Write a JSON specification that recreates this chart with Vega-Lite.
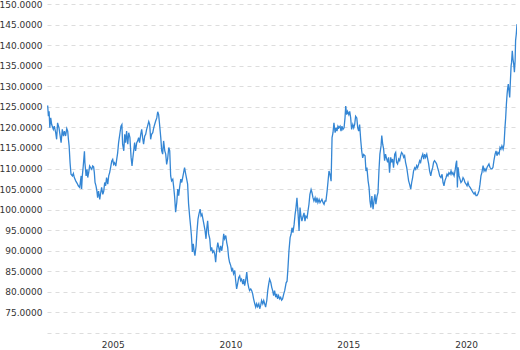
{
"$schema": "https://vega.github.io/schema/vega-lite/v6.json",
"width": 470,
"height": 329,
"autosize": {"type": "none"},
"padding": {"left": 47, "top": 4, "right": 3, "bottom": 17},
"background": "white",
"config": {"view": {"stroke": null}, "font": "DejaVu Sans"},
"data": {"values": [
{"year":2002.24,"rate":125.3},{"year":2002.27,"rate":122.7},{"year":2002.30,"rate":123.9},{"year":2002.33,"rate":119.9},{"year":2002.37,"rate":122.3},{"year":2002.41,"rate":120.7},{"year":2002.48,"rate":119.5},{"year":2002.52,"rate":120.3},{"year":2002.58,"rate":118.7},{"year":2002.62,"rate":117.1},{"year":2002.66,"rate":121.1},{"year":2002.72,"rate":119.9},{"year":2002.76,"rate":118.3},{"year":2002.81,"rate":116.3},{"year":2002.86,"rate":119.5},{"year":2002.91,"rate":117.9},{"year":2002.95,"rate":119.1},{"year":2003.00,"rate":117.9},{"year":2003.05,"rate":119.7},{"year":2003.09,"rate":119.1},{"year":2003.12,"rate":117.1},{"year":2003.15,"rate":115.5},{"year":2003.19,"rate":111.4},{"year":2003.23,"rate":108.6},{"year":2003.29,"rate":108.2},{"year":2003.33,"rate":108.8},{"year":2003.37,"rate":107.8},{"year":2003.43,"rate":107.0},{"year":2003.49,"rate":106.4},{"year":2003.54,"rate":105.8},{"year":2003.60,"rate":105.4},{"year":2003.66,"rate":108.2},{"year":2003.68,"rate":105.0},{"year":2003.71,"rate":108.2},{"year":2003.75,"rate":110.6},{"year":2003.80,"rate":114.2},{"year":2003.82,"rate":111.4},{"year":2003.87,"rate":108.2},{"year":2003.91,"rate":109.8},{"year":2003.94,"rate":107.8},{"year":2003.98,"rate":109.0},{"year":2004.02,"rate":110.6},{"year":2004.06,"rate":110.2},{"year":2004.11,"rate":109.8},{"year":2004.15,"rate":110.6},{"year":2004.19,"rate":110.4},{"year":2004.22,"rate":109.0},{"year":2004.25,"rate":106.6},{"year":2004.29,"rate":105.8},{"year":2004.33,"rate":104.5},{"year":2004.36,"rate":102.9},{"year":2004.40,"rate":104.5},{"year":2004.45,"rate":102.5},{"year":2004.49,"rate":104.1},{"year":2004.53,"rate":105.4},{"year":2004.58,"rate":103.7},{"year":2004.62,"rate":104.5},{"year":2004.66,"rate":106.6},{"year":2004.70,"rate":105.8},{"year":2004.74,"rate":107.8},{"year":2004.79,"rate":106.2},{"year":2004.83,"rate":108.2},{"year":2004.87,"rate":109.0},{"year":2004.91,"rate":110.2},{"year":2004.96,"rate":111.8},{"year":2005.00,"rate":112.2},{"year":2005.04,"rate":111.0},{"year":2005.08,"rate":111.4},{"year":2005.13,"rate":110.6},{"year":2005.17,"rate":112.2},{"year":2005.21,"rate":113.8},{"year":2005.25,"rate":116.3},
{"year":2005.31,"rate":118.7},{"year":2005.35,"rate":120.3},{"year":2005.39,"rate":120.7},{"year":2005.42,"rate":115.9},{"year":2005.47,"rate":114.3},{"year":2005.51,"rate":118.3},{"year":2005.55,"rate":116.3},{"year":2005.59,"rate":119.1},{"year":2005.64,"rate":115.9},{"year":2005.68,"rate":118.7},{"year":2005.73,"rate":117.5},{"year":2005.78,"rate":112.7},{"year":2005.82,"rate":110.6},{"year":2005.85,"rate":112.3},{"year":2005.89,"rate":114.3},{"year":2005.93,"rate":116.3},{"year":2005.97,"rate":114.3},{"year":2006.02,"rate":116.3},{"year":2006.06,"rate":116.7},{"year":2006.10,"rate":117.5},{"year":2006.14,"rate":116.3},{"year":2006.19,"rate":118.3},{"year":2006.23,"rate":119.5},{"year":2006.27,"rate":117.5},{"year":2006.31,"rate":115.9},{"year":2006.36,"rate":117.9},{"year":2006.40,"rate":118.3},{"year":2006.44,"rate":119.5},{"year":2006.48,"rate":120.3},{"year":2006.53,"rate":121.4},{"year":2006.57,"rate":120.7},{"year":2006.61,"rate":117.1},{"year":2006.65,"rate":118.3},{"year":2006.70,"rate":118.7},{"year":2006.74,"rate":119.9},{"year":2006.78,"rate":120.7},{"year":2006.82,"rate":121.5},{"year":2006.87,"rate":122.3},{"year":2006.91,"rate":123.8},{"year":2006.95,"rate":123.1},{"year":2006.99,"rate":120.7},{"year":2007.04,"rate":117.5},{"year":2007.08,"rate":114.3},{"year":2007.12,"rate":113.5},{"year":2007.16,"rate":116.7},{"year":2007.21,"rate":114.3},{"year":2007.25,"rate":113.5},{"year":2007.29,"rate":111.0},{"year":2007.33,"rate":112.3},{"year":2007.38,"rate":115.1},{"year":2007.42,"rate":114.3},{"year":2007.46,"rate":108.2},{"year":2007.50,"rate":107.0},{"year":2007.55,"rate":107.4},{"year":2007.59,"rate":105.4},{"year":2007.63,"rate":103.0},{"year":2007.67,"rate":99.4},{"year":2007.72,"rate":101.8},{"year":2007.76,"rate":105.0},{"year":2007.80,"rate":103.4},{"year":2007.84,"rate":105.4},{"year":2007.89,"rate":107.4},{"year":2007.93,"rate":106.6},{"year":2007.97,"rate":107.8},{"year":2008.01,"rate":109.0},{"year":2008.05,"rate":110.2},{"year":2008.10,"rate":108.6},{"year":2008.14,"rate":107.4},{"year":2008.18,"rate":106.2},{"year":2008.22,"rate":101.4},{"year":2008.27,"rate":98.1},{"year":2008.31,"rate":95.7},{"year":2008.34,"rate":93.7},{"year":2008.38,"rate":89.7},{"year":2008.42,"rate":91.7},{"year":2008.46,"rate":89.7},
{"year":2008.49,"rate":88.8},{"year":2008.54,"rate":91.2},{"year":2008.58,"rate":94.9},{"year":2008.62,"rate":97.7},{"year":2008.66,"rate":98.9},{"year":2008.71,"rate":100.1},{"year":2008.75,"rate":98.5},{"year":2008.79,"rate":98.9},{"year":2008.83,"rate":97.7},{"year":2008.87,"rate":96.5},{"year":2008.92,"rate":94.9},{"year":2008.96,"rate":92.9},{"year":2008.99,"rate":95.3},{"year":2009.03,"rate":97.3},{"year":2009.07,"rate":94.1},{"year":2009.12,"rate":92.9},{"year":2009.16,"rate":90.0},{"year":2009.20,"rate":90.8},{"year":2009.24,"rate":89.6},{"year":2009.29,"rate":90.0},{"year":2009.33,"rate":89.2},{"year":2009.37,"rate":87.2},{"year":2009.41,"rate":90.0},{"year":2009.46,"rate":92.0},{"year":2009.50,"rate":90.8},{"year":2009.54,"rate":89.6},{"year":2009.58,"rate":91.2},{"year":2009.63,"rate":90.0},{"year":2009.67,"rate":91.6},{"year":2009.71,"rate":94.1},{"year":2009.75,"rate":92.9},{"year":2009.80,"rate":93.7},{"year":2009.84,"rate":92.0},{"year":2009.88,"rate":90.8},{"year":2009.92,"rate":88.4},{"year":2009.96,"rate":87.2},{"year":2010.01,"rate":86.4},{"year":2010.05,"rate":85.2},{"year":2010.09,"rate":85.6},{"year":2010.13,"rate":84.4},{"year":2010.18,"rate":85.2},{"year":2010.22,"rate":82.7},{"year":2010.26,"rate":80.7},{"year":2010.30,"rate":81.9},{"year":2010.35,"rate":83.5},{"year":2010.39,"rate":83.9},{"year":2010.43,"rate":82.7},{"year":2010.47,"rate":83.1},{"year":2010.52,"rate":81.9},{"year":2010.56,"rate":83.1},{"year":2010.60,"rate":81.5},{"year":2010.64,"rate":82.7},{"year":2010.69,"rate":84.8},{"year":2010.73,"rate":82.3},{"year":2010.77,"rate":81.1},{"year":2010.81,"rate":80.3},{"year":2010.86,"rate":80.7},{"year":2010.90,"rate":80.3},{"year":2010.94,"rate":79.5},{"year":2010.98,"rate":78.3},{"year":2011.03,"rate":77.1},{"year":2011.07,"rate":76.3},{"year":2011.11,"rate":77.1},{"year":2011.15,"rate":76.4},{"year":2011.20,"rate":77.1},{"year":2011.24,"rate":75.9},{"year":2011.28,"rate":76.7},{"year":2011.32,"rate":77.9},{"year":2011.37,"rate":77.1},{"year":2011.41,"rate":77.9},{"year":2011.45,"rate":77.1},{"year":2011.49,"rate":76.3},{"year":2011.54,"rate":77.9},{"year":2011.58,"rate":80.3},{"year":2011.62,"rate":81.9},{"year":2011.66,"rate":83.1},{"year":2011.71,"rate":82.3},{"year":2011.75,"rate":81.1},{"year":2011.79,"rate":80.3},{"year":2011.83,"rate":79.1},{"year":2011.87,"rate":80.3},{"year":2011.92,"rate":78.7},{"year":2011.96,"rate":79.5},{"year":2012.00,"rate":78.3},{"year":2012.04,"rate":79.1},{"year":2012.09,"rate":78.3},{"year":2012.13,"rate":78.7},{"year":2012.17,"rate":78.0},{"year":2012.21,"rate":78.3},{"year":2012.26,"rate":79.5},{"year":2012.30,"rate":80.3},
{"year":2012.36,"rate":82.2},{"year":2012.40,"rate":82.6},{"year":2012.44,"rate":85.9},{"year":2012.48,"rate":89.9},{"year":2012.53,"rate":93.2},{"year":2012.57,"rate":94.0},{"year":2012.61,"rate":95.6},{"year":2012.65,"rate":94.4},{"year":2012.70,"rate":96.4},{"year":2012.74,"rate":98.8},{"year":2012.78,"rate":100.5},{"year":2012.82,"rate":102.9},{"year":2012.87,"rate":98.8},{"year":2012.91,"rate":94.8},{"year":2012.95,"rate":100.5},{"year":2012.99,"rate":98.4},{"year":2013.03,"rate":97.2},{"year":2013.08,"rate":98.4},{"year":2013.12,"rate":99.2},{"year":2013.16,"rate":97.2},{"year":2013.20,"rate":98.4},{"year":2013.25,"rate":98.0},{"year":2013.29,"rate":99.7},{"year":2013.33,"rate":101.3},{"year":2013.37,"rate":103.7},{"year":2013.42,"rate":104.9},{"year":2013.46,"rate":104.1},{"year":2013.50,"rate":102.9},{"year":2013.54,"rate":102.1},{"year":2013.59,"rate":102.9},{"year":2013.63,"rate":101.7},{"year":2013.67,"rate":102.9},{"year":2013.71,"rate":101.7},{"year":2013.76,"rate":102.5},{"year":2013.80,"rate":101.7},{"year":2013.84,"rate":102.1},{"year":2013.88,"rate":102.5},{"year":2013.93,"rate":101.7},{"year":2013.97,"rate":101.3},{"year":2014.01,"rate":102.1},{"year":2014.05,"rate":102.1},{"year":2014.10,"rate":104.5},{"year":2014.14,"rate":106.9},{"year":2014.18,"rate":109.4},{"year":2014.22,"rate":108.6},{"year":2014.27,"rate":106.9},{"year":2014.31,"rate":117.5},{"year":2014.35,"rate":118.7},{"year":2014.39,"rate":121.1},{"year":2014.44,"rate":118.7},{"year":2014.48,"rate":119.9},{"year":2014.52,"rate":119.1},{"year":2014.56,"rate":120.3},{"year":2014.60,"rate":119.9},{"year":2014.65,"rate":120.3},{"year":2014.69,"rate":119.1},{"year":2014.73,"rate":120.3},{"year":2014.77,"rate":119.5},{"year":2014.82,"rate":119.9},{"year":2014.86,"rate":122.3},{"year":2014.89,"rate":125.2},{"year":2014.93,"rate":123.1},{"year":2014.97,"rate":123.9},{"year":2015.02,"rate":123.1},{"year":2015.06,"rate":123.9},{"year":2015.10,"rate":122.3},{"year":2015.14,"rate":119.5},{"year":2015.19,"rate":120.7},{"year":2015.23,"rate":119.9},{"year":2015.27,"rate":120.7},{"year":2015.31,"rate":122.7},{"year":2015.36,"rate":122.3},{"year":2015.40,"rate":119.9},{"year":2015.44,"rate":119.1},{"year":2015.48,"rate":120.7},{"year":2015.53,"rate":116.7},{"year":2015.57,"rate":114.2},{"year":2015.61,"rate":112.6},{"year":2015.65,"rate":113.4},
{"year":2015.71,"rate":113.1},{"year":2015.75,"rate":109.4},{"year":2015.79,"rate":110.2},{"year":2015.84,"rate":107.0},{"year":2015.88,"rate":105.4},{"year":2015.92,"rate":102.1},{"year":2015.96,"rate":100.5},{"year":2016.00,"rate":103.3},{"year":2016.05,"rate":100.1},{"year":2016.09,"rate":102.1},{"year":2016.13,"rate":103.7},{"year":2016.17,"rate":101.3},{"year":2016.22,"rate":103.3},{"year":2016.26,"rate":104.1},{"year":2016.30,"rate":109.4},{"year":2016.34,"rate":113.5},{"year":2016.39,"rate":115.5},{"year":2016.42,"rate":118.0},{"year":2016.46,"rate":115.9},{"year":2016.50,"rate":114.7},{"year":2016.54,"rate":111.9},{"year":2016.58,"rate":113.5},{"year":2016.63,"rate":112.3},{"year":2016.67,"rate":111.5},{"year":2016.71,"rate":112.7},{"year":2016.75,"rate":109.0},{"year":2016.80,"rate":112.7},{"year":2016.84,"rate":111.5},{"year":2016.88,"rate":112.3},{"year":2016.92,"rate":110.2},{"year":2016.97,"rate":113.5},{"year":2017.01,"rate":113.9},{"year":2017.05,"rate":111.5},{"year":2017.09,"rate":111.1},{"year":2017.14,"rate":112.3},{"year":2017.18,"rate":111.9},{"year":2017.22,"rate":113.1},{"year":2017.26,"rate":113.9},{"year":2017.31,"rate":113.5},{"year":2017.35,"rate":112.7},{"year":2017.39,"rate":113.1},{"year":2017.43,"rate":111.5},{"year":2017.48,"rate":110.2},{"year":2017.52,"rate":108.6},{"year":2017.56,"rate":107.0},{"year":2017.60,"rate":106.2},{"year":2017.65,"rate":105.0},{"year":2017.69,"rate":106.6},{"year":2017.73,"rate":107.8},{"year":2017.77,"rate":109.4},{"year":2017.82,"rate":110.2},{"year":2017.86,"rate":109.8},{"year":2017.90,"rate":110.7},{"year":2017.94,"rate":110.2},{"year":2017.99,"rate":111.1},{"year":2018.03,"rate":111.9},{"year":2018.07,"rate":111.5},{"year":2018.11,"rate":112.7},{"year":2018.16,"rate":113.5},{"year":2018.20,"rate":112.3},{"year":2018.24,"rate":113.5},{"year":2018.28,"rate":112.7},{"year":2018.33,"rate":113.5},{"year":2018.37,"rate":112.3},{"year":2018.41,"rate":111.1},{"year":2018.45,"rate":109.4},{"year":2018.50,"rate":108.2},{"year":2018.54,"rate":109.4},{"year":2018.58,"rate":110.2},{"year":2018.62,"rate":111.5},{"year":2018.66,"rate":111.9},{"year":2018.71,"rate":111.5},{"year":2018.75,"rate":111.1},{"year":2018.79,"rate":110.2},{"year":2018.83,"rate":109.4},{"year":2018.88,"rate":108.2},
{"year":2018.93,"rate":107.8},{"year":2018.98,"rate":108.6},{"year":2019.02,"rate":106.6},{"year":2019.06,"rate":105.8},{"year":2019.10,"rate":107.0},{"year":2019.15,"rate":107.8},{"year":2019.19,"rate":108.6},{"year":2019.23,"rate":108.2},{"year":2019.27,"rate":109.0},{"year":2019.32,"rate":108.6},{"year":2019.36,"rate":109.4},{"year":2019.40,"rate":108.6},{"year":2019.44,"rate":109.0},{"year":2019.49,"rate":108.2},{"year":2019.53,"rate":109.4},{"year":2019.57,"rate":111.1},{"year":2019.60,"rate":111.9},{"year":2019.63,"rate":105.4},{"year":2019.66,"rate":110.3},{"year":2019.70,"rate":108.2},{"year":2019.74,"rate":107.4},{"year":2019.78,"rate":106.6},{"year":2019.83,"rate":107.0},{"year":2019.87,"rate":107.8},{"year":2019.91,"rate":107.4},{"year":2019.95,"rate":106.6},{"year":2020.00,"rate":106.2},{"year":2020.04,"rate":105.8},{"year":2020.08,"rate":106.6},{"year":2020.12,"rate":105.8},{"year":2020.17,"rate":105.4},{"year":2020.21,"rate":105.0},{"year":2020.25,"rate":104.6},{"year":2020.29,"rate":104.2},{"year":2020.34,"rate":103.8},{"year":2020.38,"rate":104.2},{"year":2020.42,"rate":103.4},{"year":2020.46,"rate":103.4},{"year":2020.50,"rate":103.8},{"year":2020.55,"rate":104.6},{"year":2020.59,"rate":106.2},{"year":2020.63,"rate":108.2},{"year":2020.67,"rate":109.0},{"year":2020.72,"rate":110.7},{"year":2020.76,"rate":109.4},{"year":2020.80,"rate":109.9},{"year":2020.84,"rate":109.4},{"year":2020.89,"rate":110.3},{"year":2020.93,"rate":110.7},{"year":2020.97,"rate":111.1},{"year":2021.01,"rate":110.3},{"year":2021.06,"rate":109.9},{"year":2021.10,"rate":109.9},{"year":2021.14,"rate":110.3},{"year":2021.18,"rate":111.9},{"year":2021.23,"rate":113.5},{"year":2021.27,"rate":114.3},{"year":2021.31,"rate":113.1},{"year":2021.35,"rate":113.9},{"year":2021.40,"rate":113.5},{"year":2021.44,"rate":115.1},{"year":2021.48,"rate":114.7},{"year":2021.52,"rate":115.5},{"year":2021.57,"rate":114.7},{"year":2021.61,"rate":115.9},{"year":2021.65,"rate":120.0},{"year":2021.68,"rate":122.4},{"year":2021.71,"rate":125.7},{"year":2021.74,"rate":128.1},{"year":2021.76,"rate":129.3},{"year":2021.79,"rate":130.5},{"year":2021.82,"rate":128.9},{"year":2021.85,"rate":127.3},{"year":2021.88,"rate":131.3},{"year":2021.91,"rate":135.0},{"year":2021.93,"rate":135.8},{"year":2021.96,"rate":138.6},{"year":2021.99,"rate":136.6},{"year":2022.02,"rate":135.4},{"year":2022.05,"rate":133.4},{"year":2022.08,"rate":136.2},{"year":2022.10,"rate":141.1},{"year":2022.13,"rate":142.7},{"year":2022.16,"rate":145.1}
]},
"mark": {"type": "line", "color": "#3486d4", "strokeWidth": 1.3, "clip": true},
"encoding": {
  "x": {"field": "year", "type": "quantitative",
    "scale": {"domain": [2002.211, 2022.16], "nice": false, "zero": false},
    "axis": {"title": null, "values": [2005, 2010, 2015, 2020], "format": "d", "grid": false, "domain": false, "ticks": false, "labelPadding": 7, "labelFontSize": 9, "labelColor": "#333333", "labelFont": "DejaVu Sans"}},
  "y": {"field": "rate", "type": "quantitative",
    "scale": {"domain": [70, 150], "nice": false, "zero": false},
    "axis": {"title": null, "values": [70,75,80,85,90,95,100,105,110,115,120,125,130,135,140,145,150], "labelExpr": "datum.value == 70 ? '' : format(datum.value, '.4f')", "grid": true, "gridColor": "#dddddd", "gridDash": [4,4], "gridWidth": 1, "domain": false, "ticks": false, "labelPadding": 5, "labelFontSize": 9, "labelColor": "#333333", "labelFont": "DejaVu Sans"}}
}
}
